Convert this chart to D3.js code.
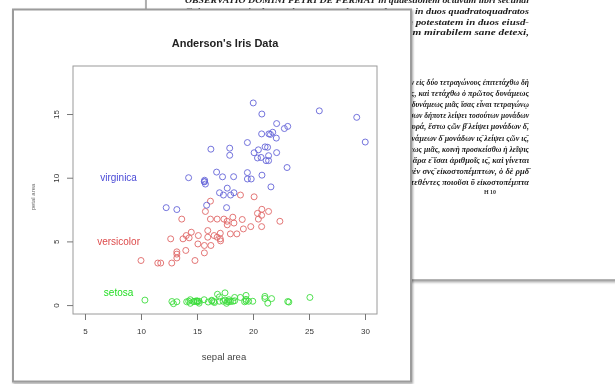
<!DOCTYPE html>
<html>
<head>
<meta charset="utf-8">
<script src="https://cdn.jsdelivr.net/npm/d3@7"></script>
<style>
  html, body { margin: 0; padding: 0; background: #fff; }
  svg { display: block; filter: blur(0.45px); }
</style>
</head>
<body>
<div id="chart"></div>
<script>
// sepal area (x) and petal area (y) for each species
var setosaX = [17.85, 14.70, 15.04, 14.26, 18.00, 21.06, 15.64, 17.00, 12.76, 15.19,
  19.98, 16.32, 14.40, 12.90, 23.20, 25.08, 21.06, 17.85, 21.66, 19.38,
  18.36, 18.87, 16.56, 16.83, 16.32, 15.00, 17.00, 18.20, 17.68, 15.04,
  14.88, 18.36, 21.32, 23.10, 15.19, 16.00, 19.25, 17.64, 13.20, 17.34,
  17.50, 10.35, 14.08, 17.50, 19.38, 14.40, 19.38, 14.72, 19.61, 16.50];
var setosaY = [0.28, 0.28, 0.26, 0.30, 0.28, 0.68, 0.42, 0.30, 0.28, 0.15,
  0.30, 0.32, 0.14, 0.11, 0.24, 0.60, 0.52, 0.42, 0.51, 0.45,
  0.34, 0.60, 0.20, 0.85, 0.38, 0.32, 0.64, 0.30, 0.28, 0.32,
  0.32, 0.60, 0.15, 0.28, 0.30, 0.24, 0.26, 0.14, 0.26, 0.30,
  0.39, 0.39, 0.26, 0.96, 0.76, 0.42, 0.32, 0.28, 0.30, 0.28];

var versicolorX = [22.40, 20.48, 21.39, 12.65, 18.20, 15.96, 20.79, 11.76, 19.14, 14.04,
  10.00, 17.70, 13.20, 17.69, 16.24, 20.77, 16.80, 15.66, 13.64, 14.00,
  18.88, 17.08, 15.75, 17.08, 18.56, 19.80, 19.04, 20.10, 17.40, 14.82,
  13.20, 13.20, 15.66, 16.20, 16.20, 20.40, 20.77, 14.49, 16.80, 13.75,
  14.30, 18.30, 15.08, 11.50, 15.12, 17.10, 16.53, 17.98, 12.75, 15.96];
var versicolorY = [6.58, 6.75, 7.35, 5.20, 6.90, 5.85, 7.52, 3.30, 5.98, 5.46,
  3.50, 6.30, 4.00, 6.58, 4.68, 6.16, 6.75, 4.10, 6.75, 4.29,
  8.64, 5.20, 7.35, 5.64, 5.59, 6.16, 6.72, 8.50, 6.75, 3.50,
  4.18, 3.70, 4.68, 8.16, 6.75, 7.20, 7.05, 5.72, 5.33, 5.20,
  5.28, 6.44, 4.80, 3.30, 5.46, 5.04, 5.46, 5.59, 3.30, 5.33];

var virginicaX = [20.79, 15.66, 21.30, 18.27, 19.50, 22.80, 12.25, 21.17, 16.75, 25.92,
  20.80, 17.28, 20.40, 14.25, 16.24, 20.48, 19.50, 29.26, 20.02, 13.20,
  22.08, 15.68, 21.56, 17.01, 22.11, 23.04, 17.36, 18.30, 17.92, 21.60,
  20.72, 30.02, 17.92, 17.64, 15.86, 23.10, 21.42, 19.84, 18.00, 21.39,
  20.77, 21.39, 15.66, 21.76, 22.11, 20.10, 15.75, 19.50, 21.08, 17.70];
var virginicaY = [15.00, 9.69, 12.39, 10.08, 12.76, 13.86, 7.65, 11.34, 10.44, 15.25,
  10.20, 10.07, 11.55, 10.00, 12.24, 12.19, 9.90, 14.74, 15.87, 7.50,
  13.11, 9.80, 13.40, 8.82, 11.97, 10.80, 8.64, 8.82, 11.76, 9.28,
  11.59, 12.80, 12.32, 7.65, 7.84, 14.03, 13.44, 9.90, 8.64, 11.34,
  13.44, 11.73, 9.69, 13.57, 14.25, 11.96, 9.50, 10.40, 12.42, 9.18];

var species = ["setosa", "versicolor", "virginica"];
var labelX = [8, 8, 8];
var labelY = [1, 5, 10];

var xTicks = [5, 10, 15, 20, 25, 30];
var yTicks = [0, 5, 10, 15];

// text of the book page lying behind the chart
var latinLines = [
  "Cubum autem in duos cubos, aut quadratoquadratum in duos quadratoquadratos",
  "et generaliter nullam in infinitum ultra quadratum potestatem in duos eiusd-",
  "nominis fas est dividere cuius rei demonstrationem mirabilem sane detexi,"
];
var greekLines = [
  "Τὸν ἐπιταχθέντα τετράγωνον διελεῖν εἰς δύο τετραγώνους ἐπιτετάχθω δὴ",
  "τὸν ις̄ διελεῖν εἰς δύο τετραγώνους, καὶ τετάχθω ὁ πρῶτος δυνάμεως",
  "μιᾶς, δεήσει ἄρα μονάδας ις̄ λείψει δυνάμεως μιᾶς ἴσας εἶναι τετραγώνῳ",
  "πλάσσω τὸν τετράγωνον ἀπὸ ςῶν ὅσων δήποτε λείψει τοσούτων μονάδων",
  "ὅσων ἐστὶν ἡ τῶν ις̄ μονάδων πλευρά, ἔστω ςῶν β̄ λείψει μονάδων δ̄,",
  "αὐτὸς ἄρα ὁ τετράγωνος ἔσται δυνάμεων δ̄ μονάδων ις̄ λείψει ςῶν ις̄,",
  "ταῦτα ἴσα μονάσιν ις̄ λείψει δυνάμεως μιᾶς, κοινὴ προσκείσθω ἡ λεῖψις",
  "καὶ ἀπὸ ὁμοίων ὅμοια, δυνάμεις ἄρα ε̄ ἴσαι ἀριθμοῖς ις̄, καὶ γίνεται",
  "ὁ ἀριθμὸς ις̄ πέμπτων, ἔσται ὁ μὲν σνς̄ εἰκοστοπέμπτων, ὁ δὲ ρμδ̄",
  "εἰκοστοπέμπτων, καὶ οἱ δύο συντεθέντες ποιοῦσι ῡ εἰκοστοπέμπτα"
];

var width = 615, height = 384;

var svg = d3.select("#chart")
  .append("svg")
  .attr("width", width)
  .attr("height", height);

var defs = svg.append("defs");
defs.append("filter")
  .attr("id", "shadow")
  .attr("x", "-10%").attr("y", "-10%")
  .attr("width", "120%").attr("height", "120%")
  .append("feDropShadow")
  .attr("dx", 1).attr("dy", 1.5)
  .attr("stdDeviation", 1.3)
  .attr("flood-color", "#000")
  .attr("flood-opacity", 0.35);

// book page in the background
var page = svg.append("g");
page.append("rect")
  .attr("x", 146).attr("y", -20)
  .attr("width", 500).attr("height", 300)
  .attr("fill", "#fff")
  .attr("stroke", "#9a9a9a")
  .attr("stroke-width", 1.5)
  .attr("filter", "url(#shadow)");

var serif = "'Liberation Serif', 'DejaVu Serif', serif";

page.append("text")
  .attr("x", 185).attr("y", 3)
  .attr("textLength", 344)
  .attr("lengthAdjust", "spacingAndGlyphs")
  .style("font", "italic bold 8px " + serif)
  .attr("fill", "#222")
  .text("OBSERVATIO DOMINI PETRI DE FERMAT in quaestionem octavam libri secundi");

page.selectAll(".latin")
  .data(latinLines)
  .enter()
  .append("text")
  .attr("class", "latin")
  .attr("x", 185)
  .attr("y", function (d, i) { return 14 + i * 10.6; })
  .attr("textLength", 344)
  .attr("lengthAdjust", "spacingAndGlyphs")
  .style("font", "italic bold 9px " + serif)
  .attr("fill", "#1a1a1a")
  .text(function (d) { return d; });

page.selectAll(".greek")
  .data(greekLines)
  .enter()
  .append("text")
  .attr("class", "greek")
  .attr("x", 300)
  .attr("y", function (d, i) { return 85 + i * 11.1; })
  .attr("textLength", 229)
  .attr("lengthAdjust", "spacingAndGlyphs")
  .style("font", "italic bold 8.5px " + serif)
  .attr("fill", "#1a1a1a")
  .text(function (d) { return d; });

page.append("text")
  .attr("x", 490).attr("y", 194)
  .attr("text-anchor", "middle")
  .style("font", "bold 6px " + serif)
  .attr("fill", "#333")
  .text("H 10");

// chart card on top
svg.append("rect")
  .attr("x", 13).attr("y", 9.5)
  .attr("width", 398).attr("height", 372)
  .attr("fill", "#fff")
  .attr("stroke", "#9c9c9c")
  .attr("stroke-width", 2)
  .attr("filter", "url(#shadow)");

var sans = "'Liberation Sans', Arial, sans-serif";

var xScale = d3.scaleLinear()
  .domain([3.93, 31.07])
  .range([73, 377]);

var yScale = d3.scaleLinear()
  .domain([-0.7, 18.77])
  .range([314, 66]);

var myColor = d3.scaleOrdinal()
  .domain(species)
  .range(["#3ddc3d", "#e06868", "#6464d8"]);

var textColor = d3.scaleOrdinal()
  .domain(species)
  .range(["#22dd22", "#dd4b4b", "#4a4ad6"]);

svg.append("text")
  .attr("x", 225).attr("y", 47)
  .attr("text-anchor", "middle")
  .style("font", "bold 11px " + sans)
  .attr("fill", "#222")
  .text("Anderson's Iris Data");

svg.append("rect")
  .attr("x", 73).attr("y", 66)
  .attr("width", 304).attr("height", 248)
  .attr("fill", "none")
  .attr("stroke", "#9a9a9a")
  .attr("stroke-width", 1);

var xAxis = svg.append("g")
  .attr("transform", "translate(0,314)")
  .call(d3.axisBottom(xScale).tickValues(xTicks).tickSize(6).tickSizeOuter(0).tickPadding(8));

var yAxis = svg.append("g")
  .attr("transform", "translate(73,0)")
  .call(d3.axisLeft(yScale).tickValues(yTicks).tickSize(6).tickSizeOuter(0));

[xAxis, yAxis].forEach(function (a) {
  a.select(".domain").remove();
  a.selectAll(".tick line").attr("stroke", "#777");
  a.selectAll(".tick text")
    .attr("fill", "#333")
    .style("font", "8px " + sans);
});

yAxis.selectAll(".tick text")
  .attr("x", null).attr("dy", null)
  .attr("text-anchor", "middle")
  .attr("transform", "translate(-17,0) rotate(-90)")
  .attr("y", 3);

svg.append("text")
  .attr("x", 224).attr("y", 360)
  .attr("text-anchor", "middle")
  .style("font", "9.5px " + sans)
  .attr("fill", "#444")
  .text("sepal area");

svg.append("text")
  .attr("transform", "translate(35,197) rotate(-90)")
  .attr("text-anchor", "middle")
  .style("font", "6px " + sans)
  .attr("fill", "#666")
  .text("petal area");

var points = [];
setosaX.forEach(function (v, i) { points.push({ sp: "setosa", x: v, y: setosaY[i] }); });
versicolorX.forEach(function (v, i) { points.push({ sp: "versicolor", x: v, y: versicolorY[i] }); });
virginicaX.forEach(function (v, i) { points.push({ sp: "virginica", x: v, y: virginicaY[i] }); });

svg.append("g")
  .selectAll("circle")
  .data(points)
  .enter()
  .append("circle")
  .attr("cx", function (d) { return xScale(d.x); })
  .attr("cy", function (d) { return yScale(d.y); })
  .attr("r", 3)
  .attr("fill", "none")
  .attr("stroke", function (d) { return myColor(d.sp); })
  .attr("stroke-width", 0.9);

svg.append("g")
  .selectAll("text")
  .data(species)
  .enter()
  .append("text")
  .attr("x", function (d, i) { return xScale(labelX[i]); })
  .attr("y", function (d, i) { return yScale(labelY[i]) + 3.5; })
  .attr("text-anchor", "middle")
  .style("font", "10px " + sans)
  .attr("fill", function (d) { return textColor(d); })
  .text(function (d) { return d; });
</script>
</body>
</html>
